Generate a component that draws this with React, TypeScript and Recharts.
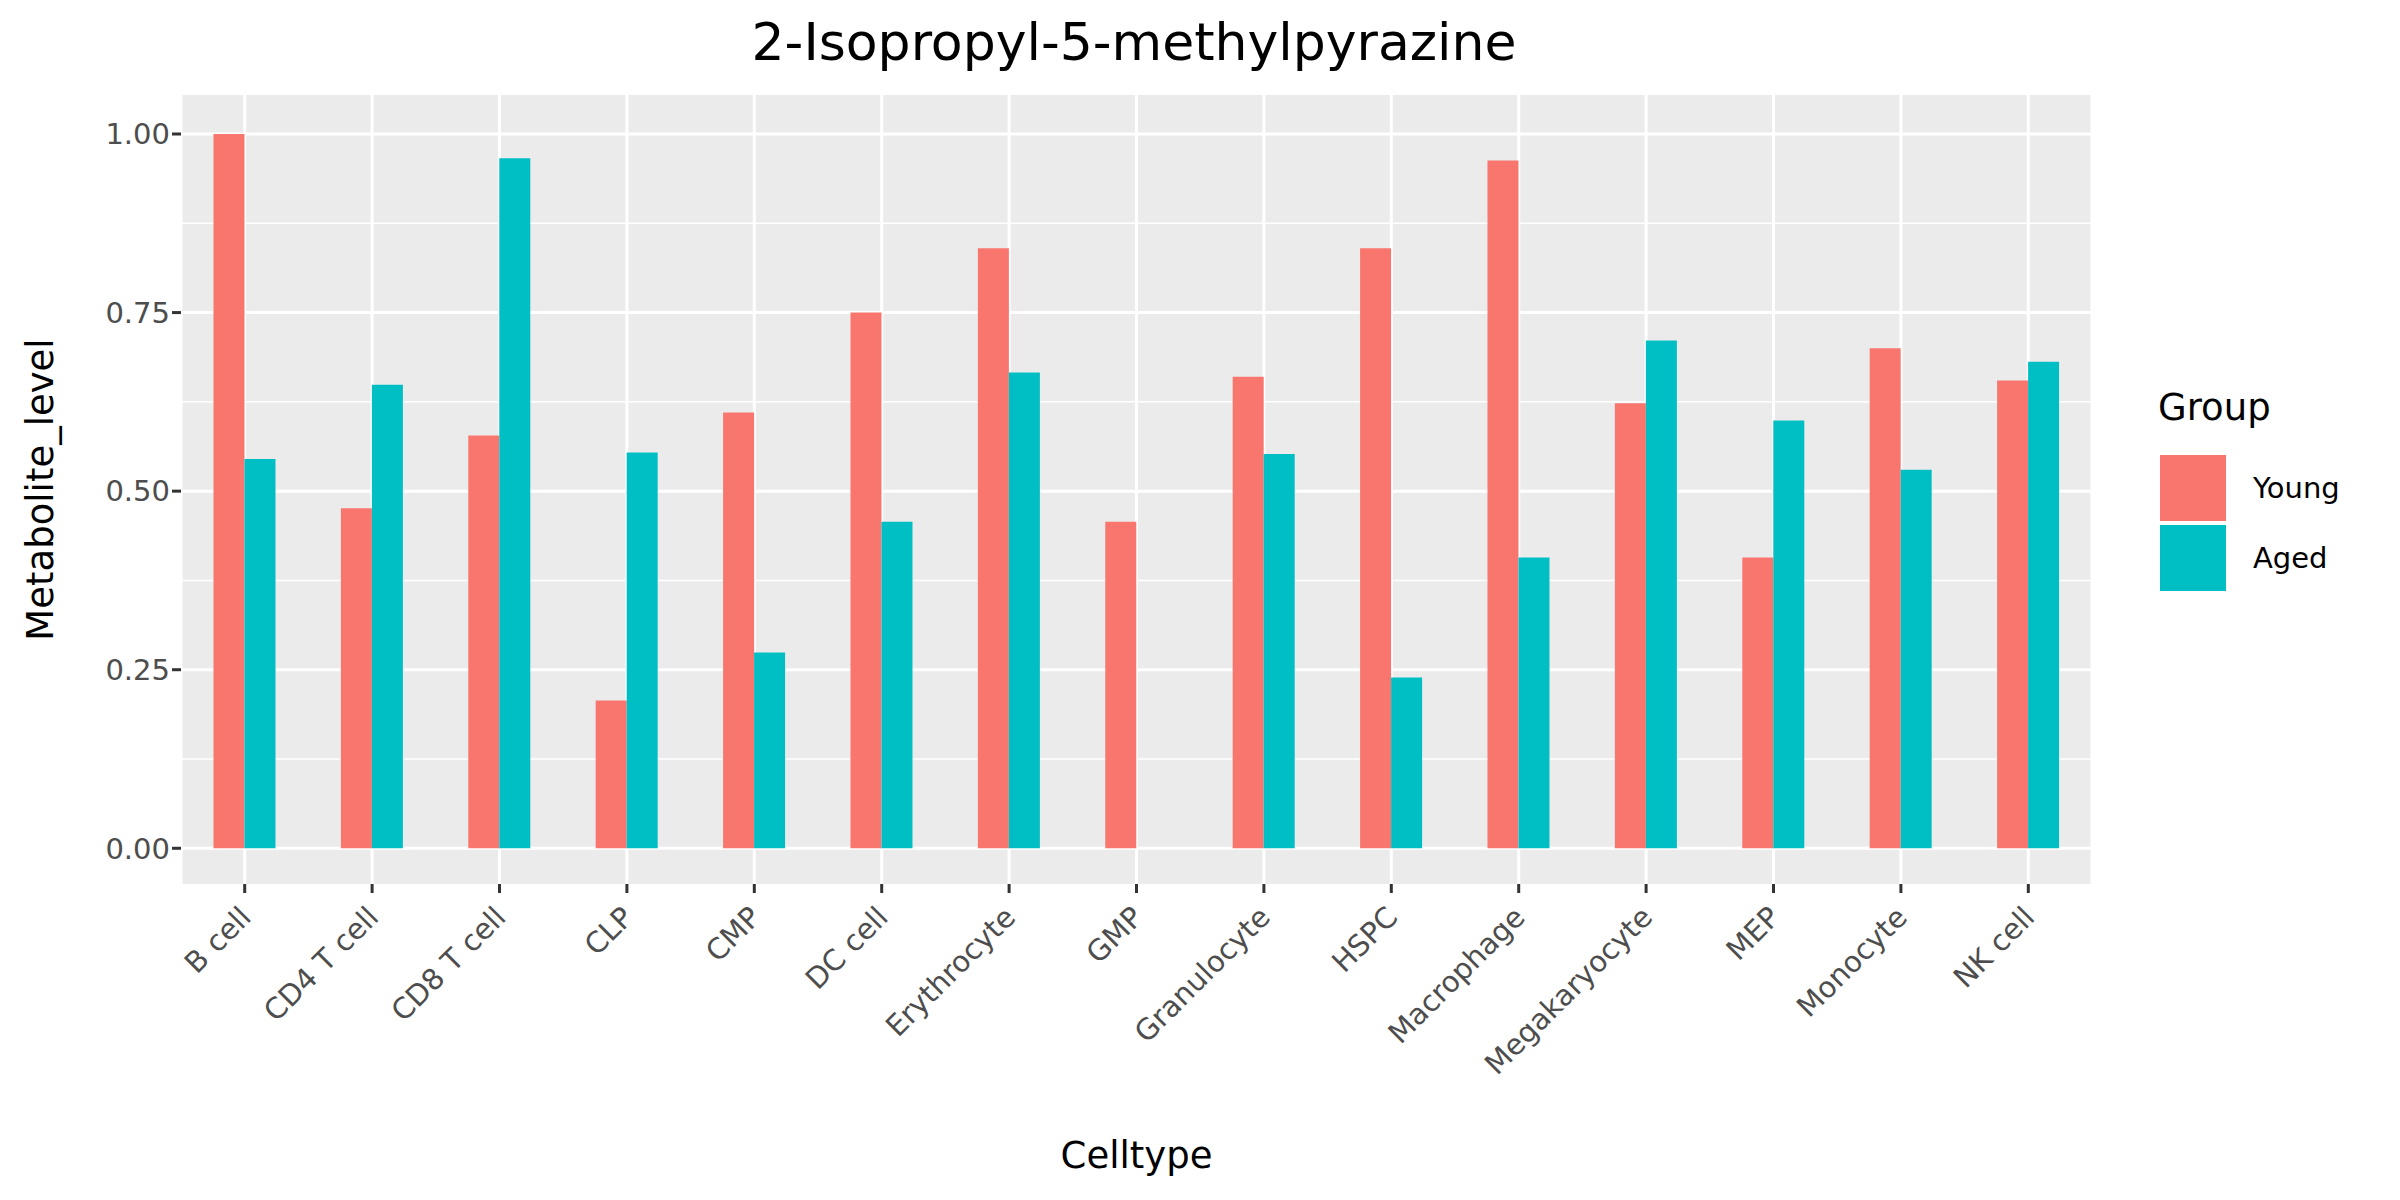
import { BarChart, Bar, XAxis, YAxis, CartesianGrid, Label } from "recharts"

const celltypes = [
  "B cell", "CD4 T cell", "CD8 T cell", "CLP", "CMP", "DC cell", "Erythrocyte", "GMP",
  "Granulocyte", "HSPC", "Macrophage", "Megakaryocyte", "MEP", "Monocyte", "NK cell",
]
const young = [1.0, 0.476, 0.578, 0.207, 0.61, 0.75, 0.84, 0.457, 0.66, 0.84, 0.963, 0.623, 0.407, 0.7, 0.655]
const aged = [0.545, 0.649, 0.966, 0.554, 0.274, 0.457, 0.666, 0, 0.552, 0.239, 0.407, 0.711, 0.599, 0.53, 0.681]
const yTicks = [0, 0.25, 0.5, 0.75, 1]
const minorTicks = [0.125, 0.375, 0.625, 0.875]

const data = celltypes.map((c, i) => ({ celltype: c, Young: young[i], Aged: aged[i] }))

const font = "DejaVu Sans, sans-serif"

const RotTick = (props: any) => {
  const { x, y, payload } = props
  return (
    <text
      x={x + 8}
      y={y + 24}
      transform={`rotate(-45, ${x + 8}, ${y + 24})`}
      textAnchor="end"
      fill="#4D4D4D"
      fontSize={29}
      fontFamily={font}
    >
      {payload.value}
    </text>
  )
}

export default function App() {
  return (
    <div style={{ position: "absolute", left: 0, top: 0, width: 2400, height: 1200, background: "#fff", fontFamily: font }}>
      <div style={{ position: "absolute", top: 12, left: 0, width: 2268, textAlign: "center", fontSize: 52, color: "#000" }}>
        2-Isopropyl-5-methylpyrazine
      </div>
      <BarChart
        width={2400}
        height={1200}
        data={data}
        margin={{ top: 95, right: 308, bottom: 0, left: 10 }}
        barCategoryGap="25.5%"
        barGap={0}
      >
        <CartesianGrid
          horizontalValues={minorTicks}
          vertical={false}
          stroke="#FFFFFF"
          strokeWidth={1.5}
          fill="#EBEBEB"
        />
        <CartesianGrid horizontalValues={yTicks} stroke="#FFFFFF" strokeWidth={3} />
        <XAxis
          dataKey="celltype"
          axisLine={false}
          tickLine={{ stroke: "#333333", strokeWidth: 3 }}
          tickSize={9}
          interval={0}
          height={316}
          tick={<RotTick />}
        >
          <Label value="Celltype" position="insideBottom" offset={32} fontSize={37} fill="#000" fontFamily={font} />
        </XAxis>
        <YAxis
          domain={[-0.05, 1.0546]}
          allowDataOverflow
          ticks={yTicks}
          tickFormatter={(v: number) => v.toFixed(2)}
          axisLine={false}
          tickLine={{ stroke: "#333333", strokeWidth: 3 }}
          tickSize={9}
          width={171}
          tick={{ fill: "#4D4D4D", fontSize: 29, fontFamily: font }}
        >
          <Label value="Metabolite_level" angle={-90} position="insideLeft" offset={30} fontSize={37} fill="#000" fontFamily={font} style={{ textAnchor: "middle" }} />
        </YAxis>
        <Bar dataKey="Young" fill="#F8766D" isAnimationActive={false} />
        <Bar dataKey="Aged" fill="#00BFC4" isAnimationActive={false} />
      </BarChart>
      <div style={{ position: "absolute", left: 2158, top: 386, fontSize: 37, color: "#000" }}>Group</div>
      {[
        { name: "Young", color: "#F8766D", top: 455 },
        { name: "Aged", color: "#00BFC4", top: 525 },
      ].map((k) => (
        <div key={k.name} style={{ position: "absolute", left: 2160, top: k.top, display: "flex", alignItems: "center" }}>
          <div style={{ width: 66, height: 66, background: k.color }} />
          <span style={{ marginLeft: 27, fontSize: 29, color: "#000" }}>{k.name}</span>
        </div>
      ))}
    </div>
  )
}
